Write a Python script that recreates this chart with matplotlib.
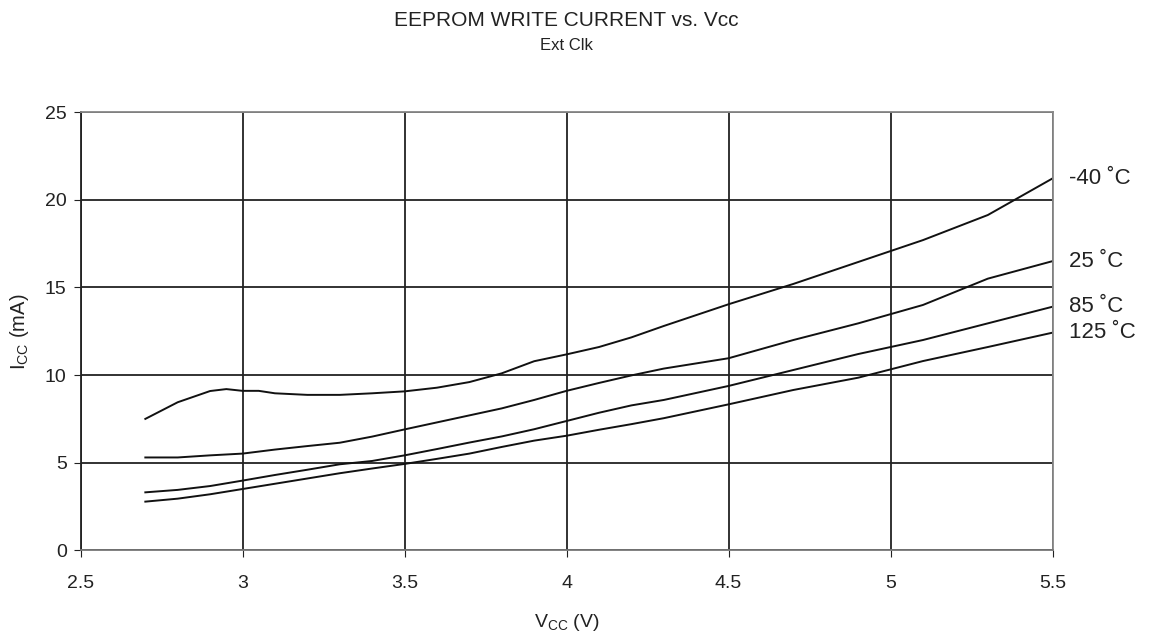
import numpy as np
import matplotlib
matplotlib.use('Agg')
import matplotlib.pyplot as plt

## data (Vcc in V, Icc in mA)
vcc_m40 = [2.7, 2.8, 2.9, 2.95, 3.0, 3.05, 3.1, 3.2, 3.3, 3.4, 3.5, 3.6, 3.7, 3.8, 3.9,
           4.0, 4.1, 4.2, 4.3, 4.5, 4.7, 4.9, 5.1, 5.3, 5.5]
icc_m40 = [7.5, 8.45, 9.09, 9.2, 9.1, 9.1, 8.96, 8.87, 8.87, 8.96, 9.07, 9.28, 9.6, 10.1, 10.79,
           11.18, 11.6, 12.15, 12.8, 14.04, 15.2, 16.45, 17.7, 19.13, 21.22]

vcc = [2.7, 2.8, 2.9, 3.0, 3.1, 3.2, 3.3, 3.4, 3.5, 3.6, 3.7, 3.8, 3.9,
       4.0, 4.1, 4.2, 4.3, 4.5, 4.7, 4.9, 5.1, 5.3, 5.5]
icc_25 = [5.3, 5.3, 5.42, 5.52, 5.75, 5.95, 6.14, 6.49, 6.9, 7.3, 7.7, 8.1, 8.58,
          9.1, 9.55, 9.98, 10.37, 10.96, 12.0, 12.95, 14.0, 15.5, 16.5]
icc_85 = [3.31, 3.45, 3.67, 3.98, 4.3, 4.6, 4.91, 5.1, 5.42, 5.78, 6.15, 6.5, 6.91,
          7.38, 7.85, 8.27, 8.58, 9.38, 10.29, 11.2, 12.0, 12.95, 13.9]
icc_125 = [2.78, 2.95, 3.2, 3.5, 3.8, 4.1, 4.4, 4.67, 4.93, 5.22, 5.52, 5.9, 6.26,
           6.54, 6.88, 7.2, 7.54, 8.33, 9.15, 9.85, 10.8, 11.6, 12.42]

series = [(vcc_m40, icc_m40, u'-40 \u02daC'),
          (vcc, icc_25, u'25 \u02daC'),
          (vcc, icc_85, u'85 \u02daC'),
          (vcc, icc_125, u'125 \u02daC')]

x_ticks = [2.5, 3, 3.5, 4, 4.5, 5, 5.5]
x_tick_labels = ['2.5', '3', '3.5', '4', '4.5', '5', '5.5']
y_ticks = [0, 5, 10, 15, 20, 25]

plt.rcParams['font.family'] = ['Liberation Sans', 'DejaVu Sans']
plt.rcParams['mathtext.fontset'] = 'custom'
plt.rcParams['mathtext.rm'] = 'Liberation Sans'
plt.rcParams['mathtext.it'] = 'Liberation Sans'

fig = plt.figure(figsize=(11.67, 6.37), dpi=100)
ax = fig.add_axes([0.069, 0.136, 0.833, 0.688])

## grid
ax.grid(True, color='#222222', linewidth=1.3)
ax.set_axisbelow(True)

## curves + labels at the right end
for xs, ys, lab in series:
    ax.plot(xs, ys, color='#111111', linewidth=1.4)
    ax.annotate(lab, xy=(xs[-1], ys[-1]), xytext=(12, 0), textcoords='offset points',
                va='center', ha='left', fontsize=16, color='#222222')

ax.set_xlim(2.5, 5.5)
ax.set_ylim(0, 25)
ax.set_xticks(x_ticks)
ax.set_xticklabels(x_tick_labels)
ax.set_yticks(y_ticks)
ax.tick_params(axis='both', labelsize=14, colors='#222222', length=5, direction='out')
ax.tick_params(axis='x', pad=13)
ax.tick_params(axis='y', pad=5)

for s in ['top', 'right']:
    ax.spines[s].set_color('#888888')
    ax.spines[s].set_linewidth(1.3)
ax.spines['left'].set_color('#222222')
ax.spines['bottom'].set_color('#777777')
ax.spines['left'].set_linewidth(1.3)
ax.spines['bottom'].set_linewidth(1.3)

ax.set_xlabel(r'V$_{\mathrm{CC}}$ (V)', fontsize=14, color='#222222', labelpad=14)
ax.set_ylabel(r'I$_{\mathrm{CC}}$ (mA)', fontsize=14.5, color='#222222', labelpad=10)

## titles
cx = 0.069 + 0.833 / 2
fig.text(cx, 1 - 21 / 637., 'EEPROM WRITE CURRENT vs. Vcc', ha='center', va='center',
         fontsize=15, color='#222222')
fig.text(cx, 1 - 46 / 637., 'Ext Clk', ha='center', va='center', fontsize=12, color='#222222')

plt.savefig('out.png', dpi=100)
